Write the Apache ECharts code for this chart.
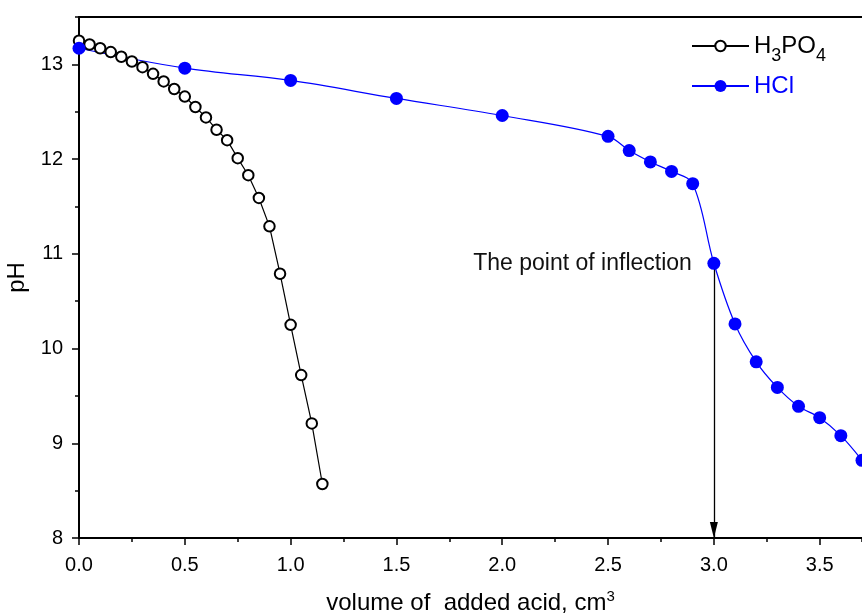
<!DOCTYPE html>
<html>
<head>
<meta charset="utf-8">
<title>Titration curves</title>
<script src="https://cdn.jsdelivr.net/npm/echarts@6/dist/echarts.min.js"></script>
<style>
  html, body { margin: 0; padding: 0; background: #fff; }
  #chart { width: 862px; height: 615px; }
</style>
</head>
<body>
<div id="chart"></div>
<script>
// Titration of the base with H3PO4 (open circles)
const volumeH3PO4 = [0.00, 0.05, 0.10, 0.15, 0.20, 0.25, 0.30, 0.35, 0.40, 0.45, 0.50, 0.55,
                     0.60, 0.65, 0.70, 0.75, 0.80, 0.85, 0.90, 0.95, 1.00, 1.05, 1.10, 1.15];
const pHH3PO4 = [13.25, 13.21, 13.17, 13.13, 13.08, 13.03, 12.97, 12.90, 12.82, 12.74, 12.66, 12.55,
                 12.44, 12.31, 12.20, 12.01, 11.83, 11.59, 11.29, 10.79, 10.25, 9.72, 9.21, 8.57];

// Titration of the base with HCl (filled circles)
const volumeHCl = [0.0, 0.5, 1.0, 1.5, 2.0, 2.5, 2.6, 2.7, 2.8, 2.9, 3.0, 3.1, 3.2, 3.3, 3.4, 3.5, 3.6, 3.7];
const pHHCl = [13.17, 12.96, 12.83, 12.64, 12.46, 12.24, 12.09, 11.97, 11.87, 11.74, 10.90, 10.26,
               9.86, 9.59, 9.39, 9.27, 9.08, 8.82];

// Index of the inflection point on the HCl curve
const inflectionIndex = 10;

const xTickValues = [0, 0.5, 1.0, 1.5, 2.0, 2.5, 3.0, 3.5];
const yTickValues = [8, 9, 10, 11, 12, 13];

const FONT = '"Liberation Sans", Arial, sans-serif';
const X_MIN = 0, X_MAX = 3.7, Y_MIN = 8, Y_MAX = 13.5;

const chart = echarts.init(document.getElementById('chart'), null, { renderer: 'canvas' });

const inflection = [volumeHCl[inflectionIndex], pHHCl[inflectionIndex]];

const blankAxisParts = {
  axisLabel: { show: false },
  splitLine: { show: false }
};

const option = {
  animation: false,
  backgroundColor: '#fff',
  textStyle: { fontFamily: FONT },
  grid: { left: 79, top: 17, right: 0, bottom: 77, outerBoundsMode: 'none', containLabel: false },
  legend: [
    {
      data: ['H3PO4'],
      left: 691, top: 34, padding: 0,
      itemWidth: 57, itemHeight: 13,
      formatter: () => '{n|H}{s|3}{n|PO}{s|4}',
      textStyle: {
        color: '#000', fontFamily: FONT, fontSize: 24,
        rich: {
          n: { fontSize: 24, color: '#000', fontFamily: FONT },
          s: { fontSize: 18, color: '#000', fontFamily: FONT, padding: [20, 0, 0, 0] }
        }
      }
    },
    {
      data: ['HCl'],
      left: 691, top: 74, padding: 0,
      itemWidth: 57, itemHeight: 15,
      textStyle: { color: '#0000ff', fontFamily: FONT, fontSize: 24 }
    }
  ],
  xAxis: [
    {
      type: 'value', position: 'bottom', min: X_MIN, max: X_MAX, interval: 0.5,
      axisLine: { onZero: false, lineStyle: { color: '#000', width: 2 } },
      axisTick: { customValues: xTickValues, length: 7, lineStyle: { color: '#000', width: 1.5 } },
      axisLabel: {
        customValues: xTickValues, margin: 17, color: '#000', fontSize: 20, fontFamily: FONT,
        formatter: v => v.toFixed(1)
      },
      splitLine: { show: false },
      name: '{t|volume of  added acid, cm}{u|3}',
      nameLocation: 'middle', nameGap: 51,
      nameTextStyle: {
        rich: {
          t: { fontSize: 24, color: '#000', fontFamily: FONT },
          u: { fontSize: 15, color: '#000', fontFamily: FONT, padding: [0, 0, 14, 0] }
        }
      }
    },
    {
      type: 'value', position: 'bottom', min: X_MIN, max: X_MAX, interval: 0.25,
      axisLine: { show: false, onZero: false },
      axisTick: { length: 4, lineStyle: { color: '#000', width: 1.5 } },
      ...blankAxisParts
    },
    {
      type: 'value', position: 'top', min: X_MIN, max: X_MAX,
      axisLine: { onZero: false, lineStyle: { color: '#000', width: 2 } },
      axisTick: { show: false },
      ...blankAxisParts
    }
  ],
  yAxis: [
    {
      type: 'value', position: 'left', min: Y_MIN, max: Y_MAX, interval: 1,
      axisLine: { onZero: false, lineStyle: { color: '#000', width: 2 } },
      axisTick: { customValues: yTickValues, length: 7, lineStyle: { color: '#000', width: 1.5 } },
      axisLabel: { customValues: yTickValues, margin: 16, color: '#000', fontSize: 20, fontFamily: FONT },
      splitLine: { show: false },
      name: 'pH', nameLocation: 'middle', nameGap: 44, nameRotate: 90,
      nameTextStyle: { fontSize: 24, color: '#000', fontFamily: FONT }
    },
    {
      type: 'value', position: 'left', min: Y_MIN, max: Y_MAX, interval: 0.5,
      axisLine: { show: false, onZero: false },
      axisTick: { length: 4, lineStyle: { color: '#000', width: 1.5 } },
      ...blankAxisParts
    }
  ],
  series: [
    {
      name: 'H3PO4',
      type: 'line',
      xAxisIndex: 0, yAxisIndex: 0,
      data: volumeH3PO4.map((v, i) => [v, pHH3PO4[i]]),
      symbol: 'emptyCircle',
      symbolSize: 10.5,
      itemStyle: { color: '#000', borderColor: '#000', borderWidth: 2.6 },
      lineStyle: { color: '#000', width: 1.2 },
      clip: false
    },
    {
      name: 'HCl',
      type: 'line',
      xAxisIndex: 0, yAxisIndex: 0,
      data: volumeHCl.map((v, i) => [v, pHHCl[i]]),
      smooth: 0.35,
      symbol: 'circle',
      symbolSize: 13,
      itemStyle: { color: '#0000ff' },
      lineStyle: { color: '#0000ff', width: 1.2 },
      clip: false,
      // Vertical drop line from the inflection point to the volume axis
      markLine: {
        silent: true,
        symbol: ['none', 'none'],
        label: { show: false },
        lineStyle: { color: '#000', width: 1.3, type: 'solid' },
        data: [[{ coord: inflection }, { coord: [inflection[0], Y_MIN] }]],
        z: 1
      },
      markPoint: {
        silent: true,
        data: [
          // Caption beside the inflection point
          {
            coord: inflection,
            symbol: 'circle',
            symbolSize: 0,
            label: {
              show: true, position: 'left', distance: 22,
              formatter: 'The point of inflection',
              color: '#111', fontSize: 23, fontFamily: FONT
            }
          },
          // Arrow head where the drop line meets the axis
          {
            coord: [inflection[0], Y_MIN],
            symbol: 'triangle',
            symbolSize: [8, 16],
            symbolRotate: 180,
            symbolOffset: [0, -8],
            itemStyle: { color: '#000' },
            label: { show: false }
          }
        ]
      }
    }
  ]
};

chart.setOption(option);
</script>
</body>
</html>
